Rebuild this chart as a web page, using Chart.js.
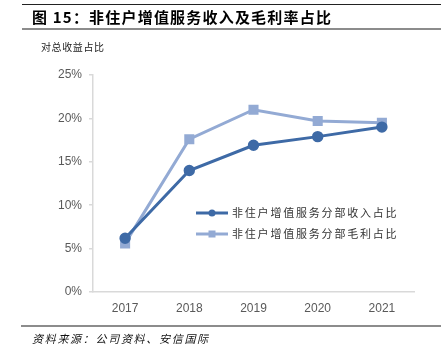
<!DOCTYPE html>
<html><head><meta charset="utf-8">
<script src="https://cdn.jsdelivr.net/npm/chart.js@4"></script>
<style>
html,body{margin:0;padding:0;background:#fff;width:441px;height:357px;overflow:hidden;}
#wrap{position:relative;width:441px;height:357px;}
canvas{position:absolute;left:0;top:0;}
.t{position:absolute;white-space:nowrap;font-family:"Noto Sans CJK SC",sans-serif;color:#000;}
#topline{position:absolute;left:22px;top:4px;width:419px;height:1px;background:#222;}
#midline{position:absolute;left:22px;top:28px;width:419px;height:2px;background:#8c8c8c;}
#botline{position:absolute;left:21px;top:325px;width:420px;height:2px;background:#8c8c8c;}
#title{left:32px;top:7px;font-size:15px;font-weight:700;letter-spacing:1.2px;line-height:20px;}
#ytitle{left:41px;top:39px;font-size:10px;letter-spacing:0.6px;line-height:16px;color:#222;}
#source{left:32px;top:330px;font-size:11px;font-style:italic;letter-spacing:1.7px;line-height:16px;color:#111;}
</style></head>
<body><div id="wrap">
<canvas id="c" width="441" height="357"></canvas>
<div id="topline"></div><div id="midline"></div><div id="botline"></div>
<div class="t" id="title">图 15：非住户增值服务收入及毛利率占比</div>
<div class="t" id="ytitle">对总收益占比</div>
<div class="t" id="source">资料来源：公司资料、安信国际</div>
</div>
<script>
const categories = ['2017','2018','2019','2020','2021'];
const revenueShare = [6.2, 14.0, 16.9, 17.9, 19.0];
const grossProfitShare = [5.6, 17.6, 21.0, 19.7, 19.5];
const seriesNames = ['非住户增值服务分部收入占比','非住户增值服务分部毛利占比'];
const yTicks = [0, 5, 10, 15, 20, 25];

const legendPlugin = {
  id: 'customLegend',
  afterDraw(chart) {
    const ctx = chart.ctx;
    const x0 = 196, x1 = 228, tx = 232;
    const ys = [213, 234];
    chart.data.datasets.forEach((ds, i) => {
      const y = ys[i];
      ctx.save();
      ctx.strokeStyle = ds.borderColor;
      ctx.lineWidth = 3;
      ctx.beginPath(); ctx.moveTo(x0, y); ctx.lineTo(x1, y); ctx.stroke();
      ctx.fillStyle = ds.borderColor;
      const cx = (x0 + x1) / 2;
      if (ds.pointStyle === 'rect') {
        ctx.fillRect(cx - 3.5, y - 3.5, 7, 7);
      } else {
        ctx.beginPath(); ctx.arc(cx, y, 3.5, 0, Math.PI * 2); ctx.fill();
      }
      ctx.fillStyle = '#333';
      ctx.font = '11px "Noto Sans CJK SC"';
      ctx.textBaseline = 'middle';
      const chars = Array.from(ds.label);
      chars.forEach((ch, k) => ctx.fillText(ch, tx + k * 12.8, y));
      ctx.restore();
    });
  }
};

new Chart(document.getElementById('c'), {
  type: 'line',
  data: {
    labels: categories,
    datasets: [
      { label: seriesNames[0], data: revenueShare, borderColor: '#3E6AA6', backgroundColor: '#3E6AA6',
        borderWidth: 3, pointStyle: 'circle', pointRadius: 4.2, pointHoverRadius: 4.2, tension: 0 },
      { label: seriesNames[1], data: grossProfitShare, borderColor: '#93AAD4', backgroundColor: '#93AAD4',
        borderWidth: 3, pointStyle: 'rect', pointRadius: 5, pointHoverRadius: 5, tension: 0 }
    ]
  },
  options: {
    responsive: false, animation: false, devicePixelRatio: 1,
    layout: { padding: { left: 0, right: 27, top: 75, bottom: 0 } },
    plugins: { legend: { display: false }, tooltip: { enabled: false } },
    scales: {
      x: {
        offset: true,
        grid: { display: false, drawTicks: false },
        border: { display: true, color: '#d9d9d9', width: 1.5 },
        ticks: { color: '#595959', font: { family: 'Liberation Sans', size: 12 }, padding: 9, maxRotation: 0 },
        afterFit(s) { s.height = 65; }
      },
      y: {
        min: 0, max: 25,
        afterBuildTicks(s) { s.ticks = yTicks.map(v => ({ value: v })); },
        grid: { drawOnChartArea: false, drawTicks: true, tickLength: 4, color: '#d9d9d9', lineWidth: 1.5 },
        border: { display: true, color: '#d9d9d9', width: 1.5 },
        ticks: { color: '#595959', font: { family: 'Liberation Sans', size: 12 }, padding: 7,
          callback: v => v + '%' },
        afterFit(s) { s.width = 93; }
      }
    }
  },
  plugins: [legendPlugin]
});
</script>
</body></html>
